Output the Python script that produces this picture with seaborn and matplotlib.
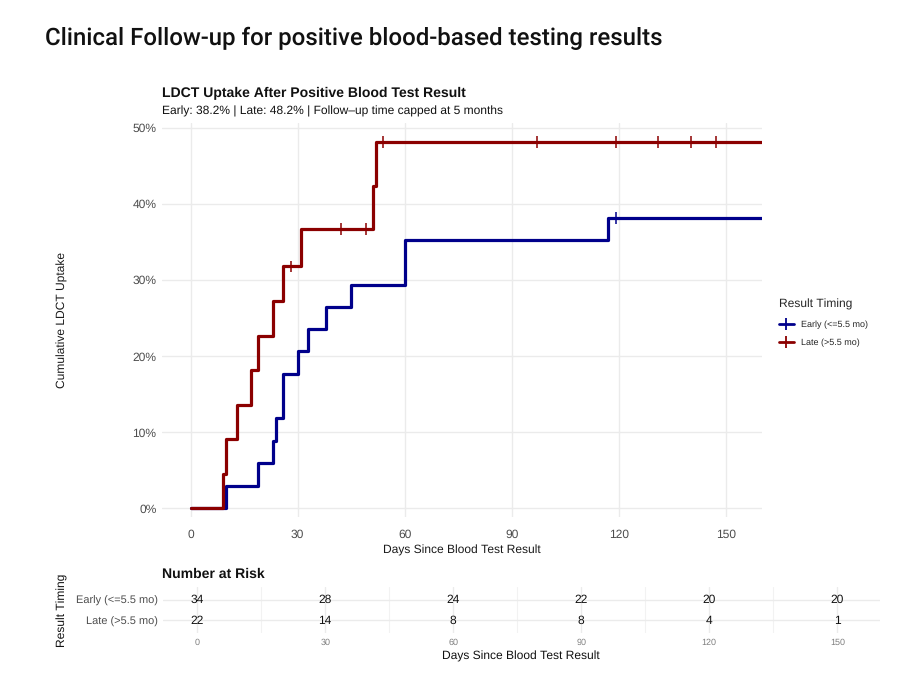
import numpy as np
import pandas as pd
import matplotlib
matplotlib.use("Agg")
import matplotlib.pyplot as plt
from matplotlib.lines import Line2D
from matplotlib.ticker import PercentFormatter, MultipleLocator
import seaborn as sns

# ---------------- data ----------------
groups = ["Early (<=5.5 mo)", "Late (>5.5 mo)"]
colors = ["#00008B", "#8B0000"]

early_days = [0, 10, 19, 23, 24, 26, 30, 33, 38, 45, 60, 117, 160]
early_cum = [0.0, 2.9, 5.9, 8.8, 11.8, 17.6, 20.6, 23.5, 26.5, 29.4, 35.3, 38.2, 38.2]

late_days = [0, 9, 10, 13, 17, 19, 23, 26, 31, 51, 52, 160]
late_cum = [0.0, 4.5, 9.1, 13.6, 18.2, 22.7, 27.3, 31.8, 36.7, 42.4, 48.2, 48.2]

early_censor_days = [119]
early_censor_cum = [38.2]
late_censor_days = [28, 42, 49, 54, 97, 119, 131, 140, 147]
late_censor_cum = [31.8, 36.7, 36.7, 48.2, 48.2, 48.2, 48.2, 48.2, 48.2]

risk_days = [0, 30, 60, 90, 120, 150]
early_risk = [34, 28, 24, 22, 20, 20]
late_risk = [22, 14, 8, 8, 4, 1]

x_ticks = [0, 30, 60, 90, 120, 150]
y_ticks = [0, 0.1, 0.2, 0.3, 0.4, 0.5]

title = "Clinical Follow-up for positive blood-based testing results"
plot_title = "LDCT Uptake After Positive Blood Test Result"
subtitle = "Early: 38.2% | Late: 48.2% | Follow\u2013up time capped at 5 months"

# ---------------- frames ----------------
curve_df = pd.concat([
    pd.DataFrame({"day": early_days, "cum": np.array(early_cum) / 100, "group": groups[0]}),
    pd.DataFrame({"day": late_days, "cum": np.array(late_cum) / 100, "group": groups[1]}),
], ignore_index=True)
cens_df = pd.concat([
    pd.DataFrame({"day": early_censor_days, "cum": np.array(early_censor_cum) / 100, "group": groups[0]}),
    pd.DataFrame({"day": late_censor_days, "cum": np.array(late_censor_cum) / 100, "group": groups[1]}),
], ignore_index=True)

# ---------------- style ----------------
sns.set_theme(style="white")
plt.rcParams["font.family"] = ["Liberation Sans", "DejaVu Sans"]
plt.rcParams["text.hinting"] = "no_hinting"
plt.rcParams["text.hinting_factor"] = 1
palette = dict(zip(groups, colors))
grid_c = "#EBEBEB"
tick_c = "#4D4D4D"

W, H = 899, 678
fig = plt.figure(figsize=(W / 100, H / 100), dpi=100)

def fx(px):
    return px / W

def fy(py):
    return 1 - py / H

ax = fig.add_axes([fx(162), fy(517), fx(762) - fx(162), fy(123) - fy(517)])
rax = fig.add_axes([fx(163), fy(633), fx(880) - fx(163), fy(587) - fy(633)])

# ---------------- main plot ----------------
sns.lineplot(data=curve_df, x="day", y="cum", hue="group", hue_order=groups,
             palette=palette, drawstyle="steps-post", estimator=None, sort=False,
             linewidth=2.3, ax=ax, legend=False)
sns.scatterplot(data=cens_df, x="day", y="cum", hue="group", hue_order=groups,
                palette=palette, marker="|", s=70, linewidth=1.1, ax=ax,
                legend=False, zorder=3)

ax.set_xlim(-8, 160)
ax.set_ylim(-0.0118, 0.5066)
ax.set_xticks(x_ticks)
ax.set_yticks(y_ticks)
ax.yaxis.set_major_formatter(PercentFormatter(1.0, decimals=0))
ax.grid(True, which="major", color=grid_c, linewidth=1.0)
ax.set_axisbelow(True)
for s in ax.spines.values():
    s.set_visible(False)
ax.tick_params(axis="x", which="both", length=0, labelsize=8.5, labelcolor=tick_c, pad=9)
ax.tick_params(axis="y", which="both", length=0, labelsize=8.5, labelcolor=tick_c, pad=4)
ax.set_xlabel("")
ax.set_ylabel("")

fig.text(fx(462), fy(550), "Days Since Blood Test Result", ha="center", va="center",
         fontsize=8.3, color="#1A1A1A")
fig.text(fx(62), fy(320), "Cumulative LDCT Uptake", ha="center", va="center",
         rotation=90, fontsize=8.3, color="#1A1A1A")

fig.text(fx(45), fy(38), title, ha="left", va="center", fontsize=17.2,
         family=["Roboto", "DejaVu Sans"], weight="medium", color="#111111")
fig.text(fx(162), fy(93), plot_title, ha="left", va="center", fontsize=9.9,
         weight="bold", color="#111111")
fig.text(fx(162), fy(111), subtitle, ha="left", va="center", fontsize=8.3, color="#111111")

handles = [Line2D([], [], color=c, linewidth=2.0, marker="|", markersize=8,
                  markeredgewidth=1.3) for c in colors]
leg = fig.legend(handles, groups, title="Result Timing", loc="upper left",
                 bbox_to_anchor=(fx(771), fy(291)), frameon=False, fontsize=6.5,
                 title_fontsize=8.4, alignment="left", handlelength=1.6,
                 handletextpad=0.8, labelspacing=1.1)

# ---------------- risk table ----------------
narrow = ["Liberation Sans Narrow", "Liberation Sans", "DejaVu Sans"]
rax.set_xlim(-8, 160)
rax.set_ylim(2.6, 0.4)
rax.set_xticks(x_ticks)
rax.xaxis.set_minor_locator(MultipleLocator(15))
rax.set_yticks([1, 2])
rax.set_yticklabels(groups, family=narrow)
rax.grid(True, which="major", color=grid_c, linewidth=1.0)
rax.grid(True, which="minor", axis="x", color="#F2F2F2", linewidth=0.8)
rax.set_axisbelow(True)
for s in rax.spines.values():
    s.set_visible(False)
rax.tick_params(axis="x", which="both", length=0, labelsize=6.5, labelcolor="#7F7F7F", pad=4)
rax.tick_params(axis="y", which="both", length=0, labelsize=8.1, labelcolor=tick_c, pad=4)
for lab in rax.get_xticklabels():
    lab.set_family(narrow)
for row, vals in ((1, early_risk), (2, late_risk)):
    for d, v in zip(risk_days, vals):
        rax.text(d, row, str(v), ha="center", va="center", fontsize=8.5,
                 family=narrow, color="#111111")

fig.text(fx(162), fy(574), "Number at Risk", ha="left", va="center", fontsize=10,
         weight="bold", family=narrow, color="#111111")
fig.text(fx(521), fy(656), "Days Since Blood Test Result", ha="center", va="center",
         fontsize=8.3, family=narrow, color="#111111")
fig.text(fx(62), fy(610), "Result Timing", ha="center", va="center", rotation=90,
         fontsize=8.5, color="#111111")

fig.savefig("out.png", dpi=100, facecolor="white")
